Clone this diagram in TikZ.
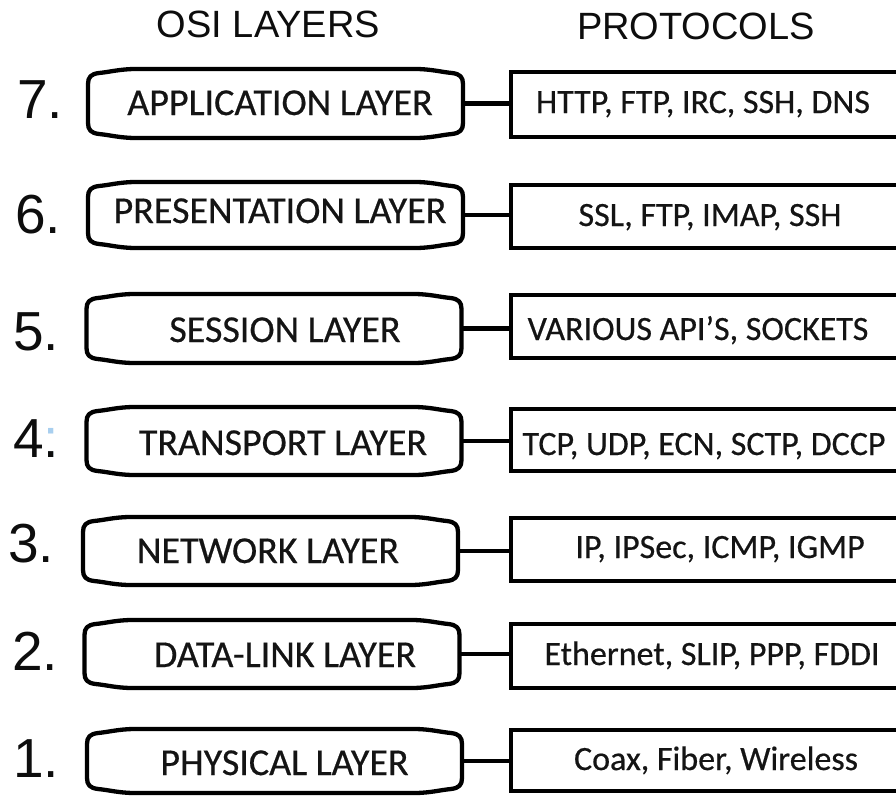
\documentclass[tikz,border=0pt]{standalone}
\usepackage{fontspec}
\newfontfamily\labelfont[FakeBold=0.5]{Carlito}
\newfontfamily\headfont{Liberation Sans}
\usetikzlibrary{calc}
\definecolor{ink}{HTML}{0D0D0D}
\definecolor{txt}{HTML}{141414}
\definecolor{faintblue}{HTML}{A8CFEF}

\tikzset{
  layerbox/.style={shape=rectangle, inner sep=0pt, outer sep=0pt,
    minimum width=375pt, minimum height=#1},
  protobox/.style={shape=rectangle, draw=black, line width=4.8pt,
    inner sep=0pt, outer sep=0pt, minimum width=402pt, minimum height=#1},
  outline/.style={draw=black, line width=4.3pt, line join=round},
  link/.style={draw=black, line width=4.3pt},
  layertext/.style={anchor=base, text=txt, inner sep=0pt,
    font=\labelfont\fontsize{38}{42}\selectfont},
  prototext/.style={anchor=base, text=txt, inner sep=0pt,
    font=\labelfont\fontsize{34}{38}\selectfont},
  heading/.style={anchor=base, text=ink, inner sep=0pt,
    font=\headfont\fontsize{38}{42}\selectfont},
  number/.style={anchor=base west, text=ink, inner sep=0pt,
    font=\headfont\fontsize{55}{60}\selectfont}
}

\begin{document}
\begin{tikzpicture}[x=1pt,y=-1pt]
\useasboundingbox (0,0) rectangle (896,795);
\clip (0,0) rectangle (896,795);
\fill[white] (0,0) rectangle (896,795);

% column headings
\node[heading] (hl) at (268.5,37) {OSI LAYERS};
\node[heading] (hr) at (696,39) {PROTOCOLS};

% layer boxes (outline drawn below)
\node[layerbox=69pt] (l7) at (275.5,103.5) {};
\node[layerbox=66pt] (l6) at (275.5,215) {};
\node[layerbox=69pt] (l5) at (274,328.5) {};
\node[layerbox=68pt] (l4) at (274,441) {};
\node[layerbox=68pt] (l3) at (270.5,551) {};
\node[layerbox=68pt] (l2) at (272,654) {};
\node[layerbox=64pt] (l1) at (274.5,761) {};

\foreach \bx in {l7,l6,l5,l4,l3,l2,l1} {
  \draw[outline] let \p1=(\bx.north west), \p2=(\bx.south east) in
    (\x1+48pt,\y1) -- (\x2-48pt,\y1)
    .. controls (\x2-32pt,\y1) and (\x2-22pt,\y1-3pt) .. (\x2-11pt,\y1-4pt)
    .. controls (\x2-3pt,\y1-5pt) and (\x2,\y1-8pt) .. (\x2,\y1-15pt)
    -- (\x2,\y2+15pt)
    .. controls (\x2,\y2+8pt) and (\x2-3pt,\y2+5pt) .. (\x2-11pt,\y2+4pt)
    .. controls (\x2-22pt,\y2+3pt) and (\x2-32pt,\y2) .. (\x2-48pt,\y2)
    -- (\x1+48pt,\y2)
    .. controls (\x1+32pt,\y2) and (\x1+22pt,\y2+3pt) .. (\x1+11pt,\y2+4pt)
    .. controls (\x1+3pt,\y2+5pt) and (\x1,\y2+8pt) .. (\x1,\y2+15pt)
    -- (\x1,\y1-15pt)
    .. controls (\x1,\y1-8pt) and (\x1+3pt,\y1-5pt) .. (\x1+11pt,\y1-4pt)
    .. controls (\x1+22pt,\y1-3pt) and (\x1+32pt,\y1) .. cycle;
}

% layer names
\node[layertext] (t7) at (280,115) {APPLICATION LAYER};
\node[layertext] (t6) at (280,223) {PRESENTATION LAYER};
\node[layertext] (t5) at (285,342) {SESSION LAYER};
\node[layertext] (t4) at (283,455) {TRANSPORT LAYER};
\node[layertext] (t3) at (268,563) {NETWORK LAYER};
\node[layertext] (t2) at (285,667) {DATA-LINK LAYER};
\node[layertext] (t1) at (284.5,775) {PHYSICAL LAYER};

% protocol boxes
\node[protobox=65pt] (p7) at (712,104.5) {};
\node[protobox=63pt] (p6) at (712,216.5) {};
\node[protobox=63pt] (p5) at (712,326.5) {};
\node[protobox=62pt] (p4) at (712,440) {};
\node[protobox=63pt] (p3) at (712,549.5) {};
\node[protobox=64pt] (p2) at (712,656) {};
\node[protobox=61pt] (p1) at (712,760.5) {};

% protocol lists
\node[prototext] (q7) at (703,113) {HTTP, FTP, IRC, SSH, DNS};
\node[prototext] (q6) at (710,226) {SSL, FTP, IMAP, SSH};
\node[prototext] (q5) at (698,340) {VARIOUS API’S, SOCKETS};
\node[prototext] (q4) at (704,455) {TCP, UDP, ECN, SCTP, DCCP};
\node[prototext] (q3) at (720,558) {IP, IPSec, ICMP, IGMP};
\node[prototext] (q2) at (712,665) {Ethernet, SLIP, PPP, FDDI};
\node[prototext] (q1) at (716,770) {Coax, Fiber, Wireless};

% connectors, level with each layer box
\foreach \i in {1,...,7} {
  \draw[link] (l\i.east) -- (l\i.east -| p\i.west);
}

% layer numbers
\node[number] (n7) at (17,118) {7.};
\node[number] (n6) at (15,233) {6.};
\node[number] (n5) at (13,350) {5.};
\node[number] (n4) at (13,457) {4\rlap{\color{faintblue}:}.};
\node[number] (n3) at (8,562) {3.};
\node[number] (n2) at (12,670) {2.};
\node[number] (n1) at (13,777) {1.};
\end{tikzpicture}
\end{document}
